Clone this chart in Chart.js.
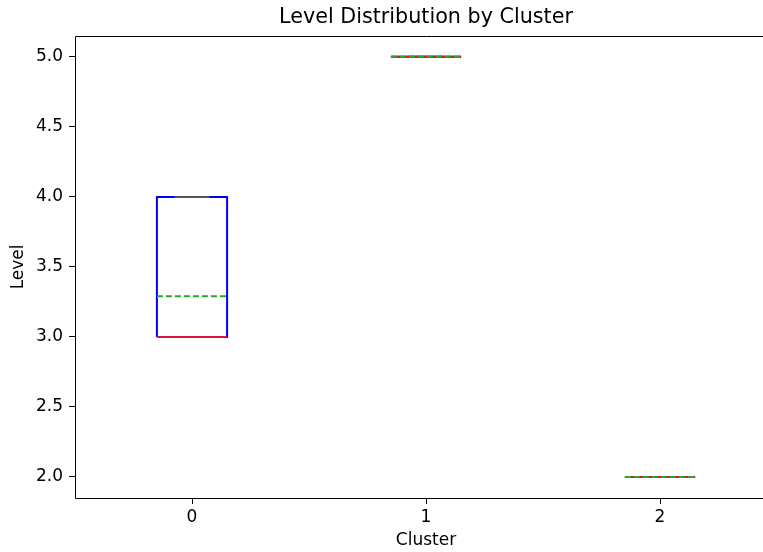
<!DOCTYPE html>
<html>
<head>
<meta charset="utf-8">
<script src="https://cdn.jsdelivr.net/npm/chart.js@4.4.1/dist/chart.umd.min.js"></script>
<style>
  html, body { margin: 0; padding: 0; overflow: hidden; background: #fff; }
  #clip { width: 763px; height: 552px; overflow: hidden; position: relative; }
  #wrap { position: absolute; left: 0; top: 0; width: 790px; height: 552px; }
</style>
</head>
<body>
<div id="clip"><div id="wrap"><canvas id="chart" width="790" height="552"></canvas></div></div>
<script>
// data
var clusters    = ['0', '1', '2'];
var clusterPos  = [0, 1, 2];
var whiskerLow  = [3, 5, 2];
var q1          = [3, 5, 2];
var medians     = [3, 5, 2];
var q3          = [4, 5, 2];
var whiskerHigh = [4, 5, 2];
var means       = [3.29, 5, 2];
var yTicks      = [2.0, 2.5, 3.0, 3.5, 4.0, 4.5, 5.0];

var boxHalf = 0.15;
var capHalf = 0.075;

// helper: line segment points followed by a gap
function seg(pts, x1, y1, x2, y2){
  pts.push({x: x1, y: y1}, {x: x2, y: y2}, {x: x2, y: null});
}

var boxPts = [], whiskPts = [], capPts = [], medPts = [], meanPts = [];
for (var i = 0; i < clusters.length; i++){
  var c = clusterPos[i];
  boxPts.push({x: c - boxHalf, y: q1[i]}, {x: c + boxHalf, y: q1[i]},
              {x: c + boxHalf, y: q3[i]}, {x: c - boxHalf, y: q3[i]},
              {x: c - boxHalf, y: q1[i]}, {x: c, y: null});
  seg(whiskPts, c, q1[i], c, whiskerLow[i]);
  seg(whiskPts, c, q3[i], c, whiskerHigh[i]);
  seg(capPts, c - capHalf, whiskerLow[i], c + capHalf, whiskerLow[i]);
  seg(capPts, c - capHalf, whiskerHigh[i], c + capHalf, whiskerHigh[i]);
  seg(medPts, c - boxHalf, medians[i], c + boxHalf, medians[i]);
  seg(meanPts, c - boxHalf, means[i], c + boxHalf, means[i]);
}

function lineSet(label, pts, color, dash){
  return {
    label: label, data: pts, showLine: true, spanGaps: false,
    borderColor: color, borderWidth: 2, borderDash: dash || [],
    pointRadius: 0, pointHoverRadius: 0, fill: false, tension: 0
  };
}

// top / left / bottom spines (the right one sits past the window edge)
var framePlugin = {
  id: 'frame',
  afterDraw: function(chart){
    var a = chart.chartArea, ctx = chart.ctx;
    var l = Math.round(a.left) + 0.5, t = Math.round(a.top) + 0.5;
    var b = Math.round(a.bottom) + 0.5, r = Math.round(a.right);
    ctx.save();
    ctx.strokeStyle = '#000';
    ctx.lineWidth = 1;
    ctx.beginPath();
    ctx.moveTo(r, t); ctx.lineTo(l, t); ctx.lineTo(l, b); ctx.lineTo(r, b);
    ctx.stroke();
    ctx.restore();
  }
};

Chart.defaults.font.family = 'DejaVu Sans';
Chart.defaults.color = '#000';

new Chart(document.getElementById('chart'), {
  type: 'scatter',
  data: {
    datasets: [
      lineSet('Mean', meanPts, '#22aa22', [6, 3]),
      lineSet('Median', medPts, '#dc143c'),
      lineSet('Caps', capPts, '#555555'),
      lineSet('Whiskers', whiskPts, '#555555'),
      lineSet('Box', boxPts, '#0000ff')
    ]
  },
  options: {
    responsive: false,
    animation: false,
    layout: { padding: { left: 0, right: 13, top: 0, bottom: 0 } },
    plugins: {
      legend: { display: false },
      tooltip: { enabled: false },
      title: {
        display: true,
        fullSize: false,
        text: 'Level Distribution by Cluster',
        color: '#000',
        font: { size: 20.7, weight: 'normal' },
        padding: { top: 5, bottom: 6 }
      }
    },
    scales: {
      x: {
        type: 'linear',
        min: -0.5, max: 2.5,
        border: { display: false },
        grid: { display: true, drawOnChartArea: false, drawTicks: true, tickLength: 6, color: '#000' },
        afterBuildTicks: function(scale){
          scale.ticks = clusterPos.map(function(v){ return {value: v}; });
        },
        afterFit: function(scale){ scale.height = 54; },
        ticks: {
          padding: 3,
          font: { size: 17 },
          maxRotation: 0,
          callback: function(v){ return clusters[clusterPos.indexOf(v)]; }
        },
        title: { display: true, text: 'Cluster', font: { size: 17 }, padding: { top: 0, bottom: 1 } }
      },
      y: {
        type: 'linear',
        min: 1.85, max: 5.15,
        border: { display: false },
        grid: { display: true, drawOnChartArea: false, drawTicks: true, tickLength: 6, color: '#000' },
        afterBuildTicks: function(scale){
          scale.ticks = yTicks.map(function(v){ return {value: v}; });
        },
        afterFit: function(scale){ scale.width = 75; },
        ticks: {
          padding: 6,
          font: { size: 17 },
          callback: function(v){ return Number(v).toFixed(1); }
        },
        title: { display: true, text: 'Level', font: { size: 17 }, padding: { top: 8, bottom: 0 } }
      }
    }
  },
  plugins: [framePlugin]
});
</script>
</body>
</html>
